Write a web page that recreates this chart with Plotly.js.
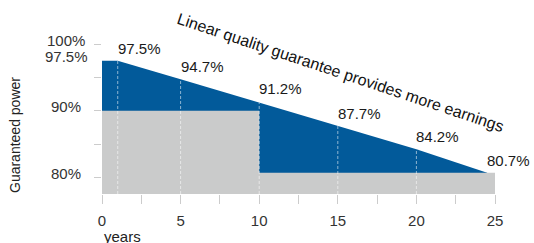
<!DOCTYPE html>
<html>
<head>
<meta charset="utf-8">
<script src="https://cdn.plot.ly/plotly-3.0.1.min.js"></script>
<style>html,body{margin:0;padding:0;background:#fff;}#chart{width:534px;height:243px;}</style>
</head>
<body>
<div id="chart"></div>
<script>
// Data
const years = [0, 1, 5, 10, 15, 20, 24.5];
const linearGuarantee = [97.5, 97.5, 94.7, 91.2, 87.7, 84.2, 80.7];
const stepYears = [0, 10, 10, 25];
const stepGuarantee = [90, 90, 80.7, 80.7];
const labelYears = [1, 5, 10, 15, 20, 24.5];
const labelValues = [97.5, 94.7, 91.2, 87.7, 84.2, 80.7];
const guideYears = [1, 5, 10, 15, 20];
const guideValues = [97.5, 94.7, 91.2, 87.7, 84.2];
const yLabelVals = [100, 97.5, 90, 80];
const yLabelText = ['100%', '97.5%', '90%', '80%'];
const yTickMarks = [80, 85, 90, 95, 100];
const xTickVals = [0, 2.5, 5, 7.5, 10, 12.5, 15, 17.5, 20, 22.5, 25];
const xTickText = ['0', '', '5', '', '10', '', '15', '', '20', '', '25'];

const BLUE = '#025a9a';
const GRAY = '#cacbcb';
const yMin = 77.5, yMax = 100;

const traces = [
  {x: years, y: linearGuarantee, type: 'scatter', mode: 'lines', fill: 'tozeroy',
   fillcolor: BLUE, line: {color: BLUE, width: 0}, hoverinfo: 'skip'},
  {x: stepYears, y: stepGuarantee, type: 'scatter', mode: 'lines', fill: 'tozeroy',
   fillcolor: GRAY, line: {color: GRAY, width: 0}, hoverinfo: 'skip'}
];
guideYears.forEach((yr, i) => {
  traces.push({x: [yr, yr], y: [yMin, guideValues[i]], type: 'scatter', mode: 'lines',
    line: {color: 'rgba(255,255,255,0.55)', width: 1, dash: '3px,2px'}, hoverinfo: 'skip'});
});

const FONT = 'Liberation Sans, Arial, sans-serif';
const annotations = [];
labelYears.forEach((yr, i) => {
  annotations.push({x: yr, y: labelValues[i], xref: 'x', yref: 'y', text: labelValues[i].toFixed(1) + '%',
    showarrow: false, xanchor: 'left', yanchor: 'bottom', xshift: -2,
    yshift: labelValues[i] === 91.2 ? 4 : 2,
    font: {family: FONT, size: 15, color: '#1a1a1a'}});
});
yLabelVals.forEach((v, i) => {
  annotations.push({x: 0, y: v, xref: 'paper', yref: 'y', text: yLabelText[i], showarrow: false,
    xanchor: 'center', yanchor: 'middle', xshift: -36, yshift: 4,
    font: {family: FONT, size: 15, color: '#333'}});
});
annotations.push({x: 0, y: 0, xref: 'paper', yref: 'paper', text: 'years', showarrow: false,
  xanchor: 'left', yanchor: 'middle', xshift: 0, yshift: -42,
  font: {family: FONT, size: 15, color: '#222'}});
annotations.push({x: 0, y: 0.5, xref: 'paper', yref: 'paper', text: 'Guaranteed power', showarrow: false,
  textangle: -90, xanchor: 'center', yanchor: 'middle', xshift: -87, yshift: -16,
  font: {family: FONT, size: 14, color: '#222'}});
annotations.push({x: 0.607, y: 0.813, xref: 'paper', yref: 'paper',
  text: 'Linear quality guarantee provides more earnings', showarrow: false,
  textangle: 18.5, xanchor: 'center', yanchor: 'middle',
  font: {family: FONT, size: 16, color: '#111'}});

const layout = {
  width: 534, height: 243,
  margin: {l: 102, r: 39, t: 44, b: 49, pad: 0},
  paper_bgcolor: '#fff', plot_bgcolor: '#fff',
  showlegend: false, hovermode: false,
  xaxis: {range: [0, 25], tickmode: 'array', tickvals: xTickVals, ticktext: xTickText,
    ticks: 'outside', ticklen: 9, tickcolor: '#cccccc', tickwidth: 1, ticklabelstandoff: 4,
    showgrid: false, zeroline: false, showline: false,
    tickfont: {family: FONT, size: 15, color: '#333'}},
  yaxis: {range: [yMin, yMax], tickmode: 'array', tickvals: yTickMarks,
    ticktext: yTickMarks.map(() => ''), ticks: 'outside', ticklen: 7, tickcolor: '#cccccc',
    showgrid: false, zeroline: false, showline: false},
  annotations: annotations
};
Plotly.newPlot('chart', traces, layout, {staticPlot: true, displayModeBar: false});
</script>
</body>
</html>
